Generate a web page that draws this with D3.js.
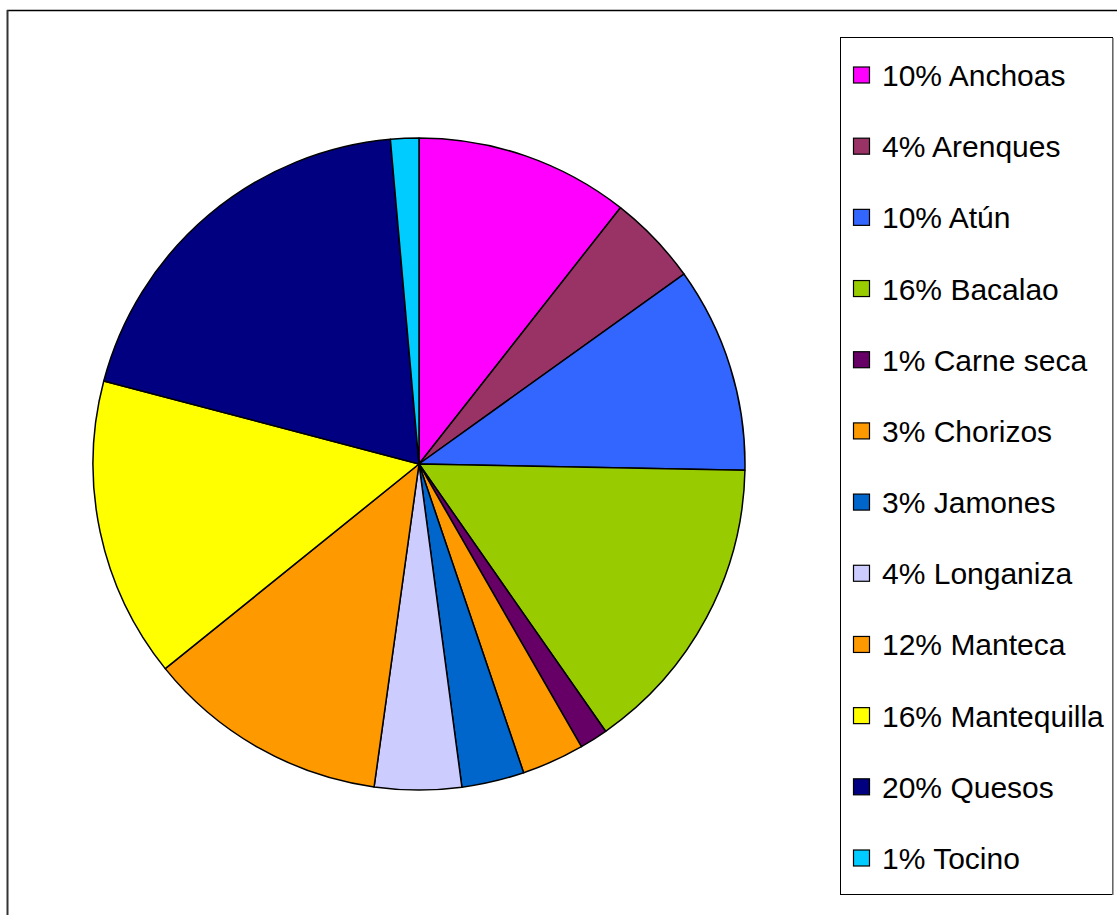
<!DOCTYPE html>
<html>
<head>
<meta charset="utf-8">
<script src="https://cdn.jsdelivr.net/npm/d3@7"></script>
<style>
  body { margin: 0; background: #fff; }
  svg { display: block; }
  .legend-label { font-family: "Liberation Sans", Arial, sans-serif; font-size: 30px; fill: #000; }
</style>
</head>
<body>
<div id="chart"></div>
<script>
// slice names, shares, legend labels, colours
const categories = ["Anchoas", "Arenques", "Atún", "Bacalao", "Carne seca", "Chorizos",
    "Jamones", "Longaniza", "Manteca", "Mantequilla", "Quesos", "Tocino"];
const values = [10.6, 4.5, 10.2, 15.0, 1.4, 3.1, 3.1, 4.3, 12.0, 14.9, 19.5, 1.4];
const labels = ["10%", "4%", "10%", "16%", "1%", "3%", "3%", "4%", "12%", "16%", "20%", "1%"];
const colors = ["#FF00FF", "#993366", "#3366FF", "#99CC00", "#660066", "#FF9900",
    "#0066CC", "#CCCCFF", "#FF9900", "#FFFF00", "#000080", "#00CCFF"];

const width = 1117, height = 915;

const svg = d3.select("#chart")
    .append("svg")
    .attr("width", width)
    .attr("height", height);

// outer frame
svg.append("line")
    .attr("x1", 7).attr("y1", 10.5).attr("x2", width).attr("y2", 10.5)
    .style("stroke", "#000").style("stroke-width", 1.5);
svg.append("line")
    .attr("x1", 7.5).attr("y1", 10).attr("x2", 7.5).attr("y2", height)
    .style("stroke", "#333").style("stroke-width", 2);

const data = categories.map((c, i) => ({name: c, value: values[i], label: labels[i], color: colors[i]}));

const pie = d3.pie().value(d => d.value).sort(null);
const arc = d3.arc().innerRadius(0).outerRadius(326);

const pieG = svg.append("g")
    .attr("transform", "translate(419,464)");

pieG.selectAll(".slice")
    .data(pie(data))
    .enter()
    .append("path")
    .attr("class", "slice")
    .attr("d", arc)
    .attr("fill", d => d.data.color)
    .style("stroke", "#000")
    .style("stroke-width", 1.5)
    .style("stroke-linejoin", "round");

// legend
const legendY = d3.scalePoint()
    .domain(categories)
    .range([75, 858]);

svg.append("rect")
    .attr("x", 840.5).attr("y", 37.5)
    .attr("width", 272).attr("height", 857)
    .attr("fill", "#fff")
    .style("stroke", "#000").style("stroke-width", 1);
svg.append("line")
    .attr("x1", 1113).attr("y1", 38).attr("x2", 1113).attr("y2", 895)
    .style("stroke", "#888").style("stroke-width", 1.5);

const items = svg.selectAll(".legend-item")
    .data(data)
    .enter()
    .append("g")
    .attr("class", "legend-item")
    .attr("transform", d => `translate(0,${legendY(d.name)})`);

items.append("rect")
    .attr("x", 853.5).attr("y", -8)
    .attr("width", 16).attr("height", 16)
    .attr("fill", d => d.color)
    .style("stroke", "#000").style("stroke-width", 1.2);

items.append("text")
    .attr("class", "legend-label")
    .attr("x", 882)
    .attr("y", 11)
    .text(d => d.label + " " + d.name);
</script>
</body>
</html>
